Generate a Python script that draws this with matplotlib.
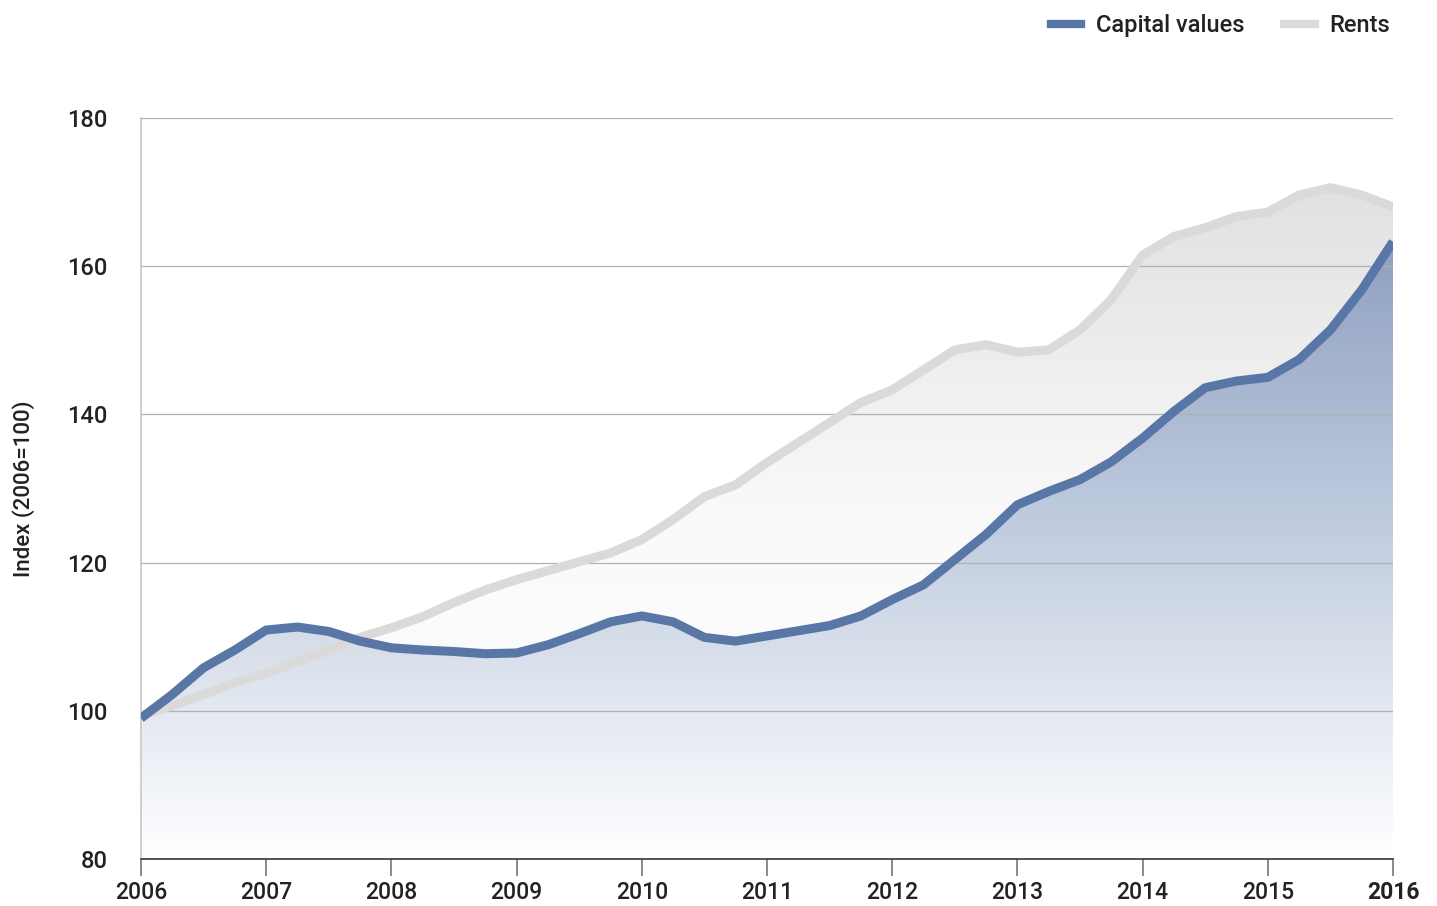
import matplotlib.pyplot as plt
import numpy as np
from matplotlib.colors import LinearSegmentedColormap
from matplotlib.lines import Line2D

plt.rcParams['font.family'] = ['Roboto', 'DejaVu Sans']

# quarterly index values, 2006=100
quarters = np.arange(2006, 2016.01, 0.25)
capital = [99.0, 102.2, 105.8, 108.2, 110.9, 111.3, 110.7, 109.4, 108.5, 108.2,
           108.0, 107.7, 107.8, 108.9, 110.4, 112.0, 112.8, 112.0, 109.9, 109.4,
           110.1, 110.8, 111.5, 112.8, 115.0, 117.0, 120.4, 123.8, 127.8, 129.6,
           131.2, 133.6, 136.8, 140.4, 143.6, 144.5, 145.0, 147.4, 151.4, 156.8,
           163.3]
rents = [99.3, 100.7, 102.2, 103.8, 105.1, 106.6, 108.2, 109.9, 111.2, 112.7,
         114.6, 116.3, 117.7, 118.9, 120.1, 121.3, 123.1, 125.8, 128.9, 130.5,
         133.5, 136.2, 138.9, 141.6, 143.3, 146.0, 148.7, 149.4, 148.4, 148.7,
         151.4, 155.5, 161.5, 164.0, 165.2, 166.7, 167.3, 169.6, 170.6, 169.6,
         168.0]
years = list(range(2006, 2017))
yticks = [80, 100, 120, 140, 160, 180]

blue = '#5877a7'
grey = '#dadada'
txt = '#222222'

fig = plt.figure(figsize=(14.37, 9.06), dpi=100)
ax = fig.add_axes([0.0981, 0.0519, 0.8713, 0.8179])

# gradient fills clipped to the areas under each line
grey_cmap = LinearSegmentedColormap.from_list('g', ['#ffffff', '#fafafa', '#e0e0e0'])
blue_cmap = LinearSegmentedColormap.from_list('b', ['#ffffff', '#c4cfe1', '#8c9ebf'])
grad = np.linspace(0, 1, 256).reshape(-1, 1)

poly_r = ax.fill_between(quarters, 80, rents, color='none', lw=0)
im_r = ax.imshow(grad, extent=[2006, 2016, 80, 172], origin='lower', aspect='auto',
                 cmap=grey_cmap, zorder=1)
im_r.set_clip_path(poly_r.get_paths()[0], transform=ax.transData)

poly_c = ax.fill_between(quarters, 80, capital, color='none', lw=0)
im_c = ax.imshow(grad, extent=[2006, 2016, 80, 165], origin='lower', aspect='auto',
                 cmap=blue_cmap, zorder=2)
im_c.set_clip_path(poly_c.get_paths()[0], transform=ax.transData)

ax.set_xlim(2006, 2016)
ax.set_ylim(80, 180)

ax.plot(quarters, rents, color=grey, lw=6.5, solid_joinstyle='round',
        solid_capstyle='butt', zorder=4)
ax.plot(quarters, capital, color=blue, lw=6.5, solid_joinstyle='round',
        solid_capstyle='butt', zorder=5)

for y in yticks[1:]:
    ax.axhline(y, color='#b0b0b0', lw=0.9, zorder=3)

ax.set_yticks(yticks)
ax.set_xticks(years)
ax.set_xticklabels([str(y) for y in years])
for lab in ax.get_xticklabels() + ax.get_yticklabels():
    lab.set_fontweight('medium')
ax.get_xticklabels()[-1].set_fontweight('bold')
ax.tick_params(axis='y', length=0, pad=24, labelsize=17, labelcolor=txt)
ax.tick_params(axis='x', length=12, width=1.2, color='#777777', pad=4,
               labelsize=16.5, labelcolor=txt)

for s in ['top', 'right']:
    ax.spines[s].set_visible(False)
ax.spines['left'].set_color('#c8c8c8')
ax.spines['left'].set_linewidth(1.2)
ax.spines['bottom'].set_color('#333333')
ax.spines['bottom'].set_linewidth(1.2)
ax.spines['bottom'].set_zorder(6)

ax.set_ylabel('Index (2006=100)', fontsize=16, fontweight='medium', color=txt)
ax.yaxis.set_label_coords(-0.085, 0.5)

handles = [Line2D([0], [0], color=blue, lw=6),
           Line2D([0], [0], color=grey, lw=6)]
fig.legend(handles, ['Capital values', 'Rents'], loc='upper right',
           bbox_to_anchor=(0.982, 1.008), ncol=2, frameon=False,
           handlelength=1.3, columnspacing=1.7, handletextpad=0.6,
           labelcolor=txt, prop={'weight': 'medium', 'size': 17})

fig.savefig('out.png', dpi=100)
